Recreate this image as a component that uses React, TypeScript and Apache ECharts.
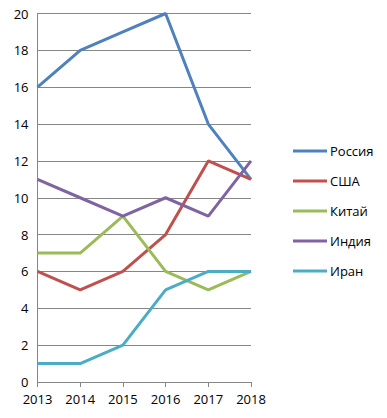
import React, { useEffect, useRef } from "react";
import * as echarts from "echarts";

const years = ["2013", "2014", "2015", "2016", "2017", "2018"];
const russia = [16, 18, 19, 20, 14, 11];
const usa = [6, 5, 6, 8, 12, 11];
const china = [7, 7, 9, 6, 5, 6];
const india = [11, 10, 9, 10, 9, 12];
const iran = [1, 1, 2, 5, 6, 6];

const seriesNames = ["Россия", "США", "Китай", "Индия", "Иран"];
const seriesData = [russia, usa, china, india, iran];
const colors = ["#4F81BD", "#C0504D", "#9BBB59", "#8064A2", "#4BACC6"];

export default function App() {
  const ref = useRef<HTMLDivElement>(null);
  useEffect(() => {
    if (!ref.current) return;
    const chart = echarts.init(ref.current, null, { renderer: "svg" });
    const font = "'Open Sans', 'Noto Sans', sans-serif";
    chart.setOption({
      animation: false,
      textStyle: { fontFamily: font },
      grid: { left: 37.5, right: 136, top: 13.5, bottom: 36, containLabel: false },
      legend: {
        orient: "vertical",
        left: 293,
        top: 143,
        padding: 0,
        icon: "rect",
        itemWidth: 34,
        itemHeight: 3,
        itemGap: 14,
        data: seriesNames,
        textStyle: { fontSize: 13, lineHeight: 16, color: "#000", fontFamily: font, padding: [0, 0, 0, -2] },
      },
      xAxis: {
        type: "category",
        data: years,
        boundaryGap: false,
        axisLine: { lineStyle: { color: "#868686", width: 1 } },
        axisTick: { show: true, length: 5, lineStyle: { color: "#868686" } },
        axisLabel: { color: "#000", fontSize: 13, margin: 10, fontFamily: font },
        splitLine: { show: false },
      },
      yAxis: {
        type: "value",
        min: 0,
        max: 20,
        interval: 2,
        axisLine: { show: true, lineStyle: { color: "#868686", width: 1 } },
        axisTick: { show: false },
        axisLabel: { color: "#000", fontSize: 13, margin: 9, fontFamily: font },
        splitLine: { show: true, lineStyle: { color: "#868686", width: 1 } },
      },
      series: seriesNames.map((name, i) => ({
        name,
        type: "line",
        data: seriesData[i],
        symbol: "none",
        color: colors[i],
        lineStyle: { width: 3, color: colors[i] },
      })),
    });
    return () => chart.dispose();
  }, []);
  return <div ref={ref} style={{ width: 387, height: 418, position: "absolute", left: 0, top: 0 }} />;
}
